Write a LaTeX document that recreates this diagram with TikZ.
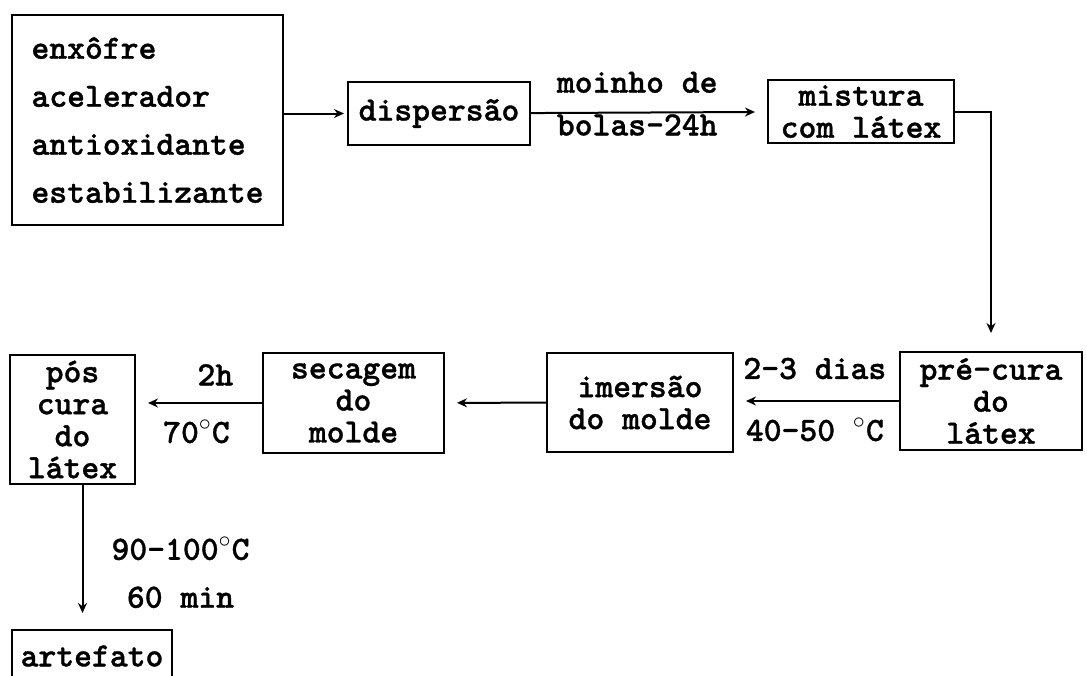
\documentclass[tikz,border=0pt]{standalone}
\usepackage{fontspec}
\newfontfamily\typew{lmmonolt10-bold.otf}[FakeBold=1]
\usetikzlibrary{arrows.meta}
\newcommand{\flowfont}{\typew\fontsize{17}{16}\selectfont}

\begin{document}
\begin{tikzpicture}[x=0.5pt, y=-0.5pt, >={Stealth[length=5pt,width=4.5pt]},
    font=\flowfont,
    box/.style={draw, line width=1pt, align=center, inner sep=0pt},
    flow/.style={->, line width=1pt, shorten >=6pt}]
    \useasboundingbox (0,0) rectangle (1087,675);
    \clip (0,0) rectangle (1087,675);

    \node[box, align=left, font={\typew\fontsize{17}{24}\selectfont},
        minimum width=135.5pt, minimum height=105pt]
        (ingred) at (147.5,120) {enxôfre\\acelerador\\antioxidante\\estabilizante};

    \node[box, minimum width=91pt, minimum height=31.5pt]
        (disp) at (439,113.5) {dispersão};

    \node[box, minimum width=93pt, minimum height=31.5pt]
        (mist) at (861,111.5) {mistura\\com látex};

    \node[box, minimum width=91pt, minimum height=49pt]
        (precura) at (991,401) {pré-cura\\do\\látex};

    \node[box, minimum width=93pt, minimum height=49.5pt]
        (imersao) at (640,402.5) {imersão\\do molde};

    \node[box, minimum width=90.5pt, minimum height=50pt]
        (secagem) at (353.5,403) {secagem\\do\\molde};

    \node[box, minimum width=62.5pt, minimum height=64.5pt]
        (poscura) at (72.5,419.5) {pós\\cura\\do\\látex};

    \node[box, minimum width=80pt, minimum height=26pt]
        (artef) at (92,656) {artefato};

    \draw[flow, shorten >=1.5pt] (ingred.east |- disp.west) -- (disp.west);
    \draw[flow] (disp) -- node[pos=0.45, above=6pt] {moinho de}
        node[pos=0.45, below=-3pt] {bolas-24h} (mist);
    \draw[flow, shorten >=9pt] (mist.east) -| (precura.north);
    \draw[flow] (precura.west) -- node[pos=0.51, above=7pt] {2-3 dias}
        node[pos=0.51, below=4.5pt] {40-50 $^{\circ}$C} (precura.west -| imersao.east);
    \draw[flow] (imersao) -- (secagem);
    \draw[flow] (secagem.west) -- node[pos=0.37, above=5pt] {2h}
        node[pos=0.52, below=4.5pt] {70$^{\circ}$C} (secagem.west -| poscura.east);
    \draw[flow, shorten >=8pt] ([xshift=5pt]poscura.south) --
        node[pos=0.44, xshift=49pt] {90-100$^{\circ}$C}
        node[pos=0.78, xshift=49pt] {60 min} ([xshift=5pt]poscura.south |- artef.north);
\end{tikzpicture}
\end{document}
